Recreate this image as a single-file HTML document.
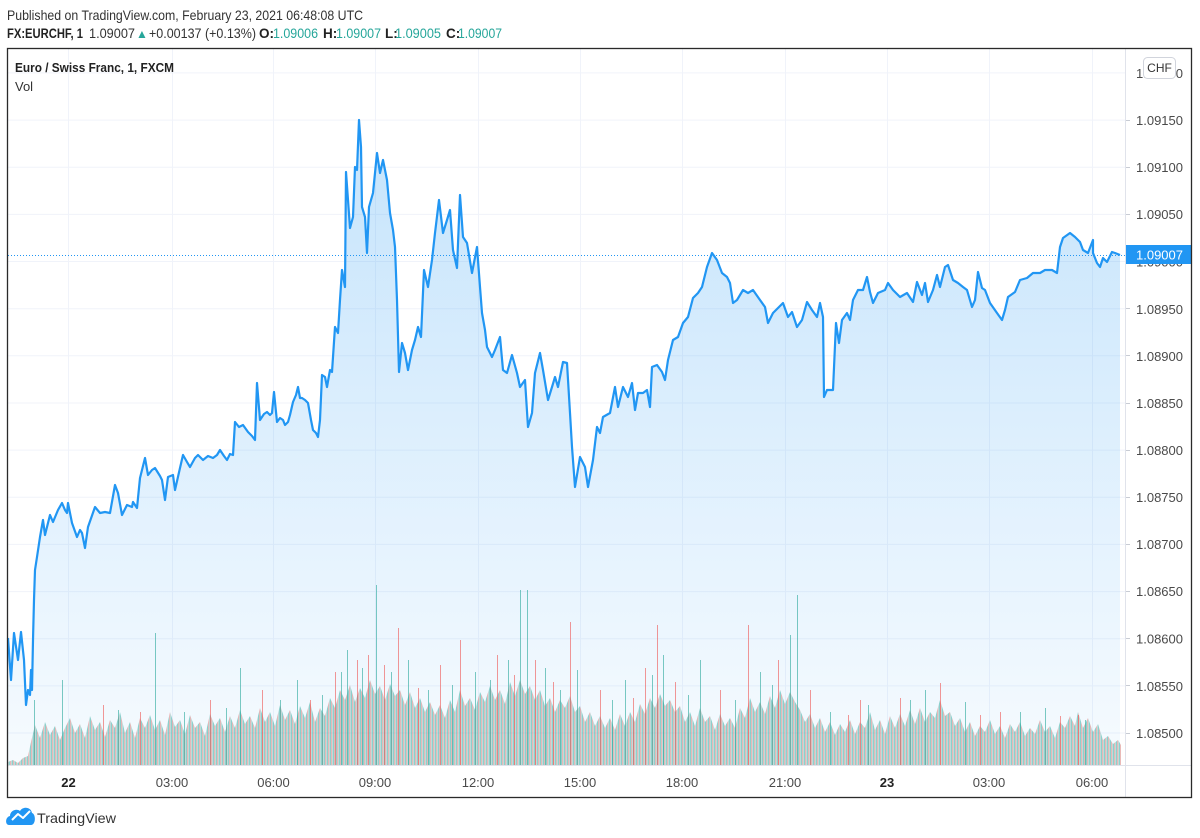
<!DOCTYPE html>
<html><head><meta charset="utf-8"><style>
html,body{margin:0;padding:0;background:#fff;}
svg{display:block;}
text{font-family:"Liberation Sans",Arial,sans-serif;}
</style></head><body>
<svg width="1200" height="838" viewBox="0 0 1200 838" xmlns="http://www.w3.org/2000/svg">
<defs>
<linearGradient id="fg" x1="0" y1="120" x2="0" y2="765" gradientUnits="userSpaceOnUse">
<stop offset="0" stop-color="#2196f3" stop-opacity="0.26"/>
<stop offset="1" stop-color="#2196f3" stop-opacity="0.04"/>
</linearGradient>
<pattern id="vp" width="3" height="10" patternUnits="userSpaceOnUse">
<rect x="0" y="0" width="1.2" height="10" fill="#26a69a" fill-opacity="0.5"/>
<rect x="1.2" y="0" width="1" height="10" fill="#ef5350" fill-opacity="0.45"/>
<rect x="2.2" y="0" width="0.8" height="10" fill="#26a69a" fill-opacity="0.3"/>
</pattern>
</defs>
<rect width="1200" height="838" fill="#fff"/>

<!-- header -->
<text x="7" y="20" font-size="14" fill="#333" textLength="356" lengthAdjust="spacingAndGlyphs">Published on TradingView.com, February 23, 2021 06:48:08 UTC</text>
<g font-size="13.5">
<text x="7" y="38" font-weight="bold" fill="#222" textLength="76" lengthAdjust="spacingAndGlyphs">FX:EURCHF, 1</text>
<text x="89" y="38" fill="#333" textLength="46" lengthAdjust="spacingAndGlyphs">1.09007</text>
<text x="136" y="38" fill="#26a69a" font-size="12">▲</text>
<text x="149" y="38" fill="#333" textLength="107" lengthAdjust="spacingAndGlyphs">+0.00137 (+0.13%)</text>
<text x="259" y="38" font-weight="bold" fill="#222">O:</text>
<text x="273" y="38" fill="#26a69a" textLength="45" lengthAdjust="spacingAndGlyphs">1.09006</text>
<text x="323" y="38" font-weight="bold" fill="#222">H:</text>
<text x="336" y="38" fill="#26a69a" textLength="45" lengthAdjust="spacingAndGlyphs">1.09007</text>
<text x="385" y="38" font-weight="bold" fill="#222">L:</text>
<text x="395" y="38" fill="#26a69a" textLength="46" lengthAdjust="spacingAndGlyphs">1.09005</text>
<text x="446" y="38" font-weight="bold" fill="#222">C:</text>
<text x="458" y="38" fill="#26a69a" textLength="44" lengthAdjust="spacingAndGlyphs">1.09007</text>
</g>

<!-- grid -->
<g stroke="#f0f3fa" stroke-width="1">
<line x1="8" x2="1125" y1="733" y2="733"/>
<line x1="8" x2="1125" y1="685.9" y2="685.9"/>
<line x1="8" x2="1125" y1="638.7" y2="638.7"/>
<line x1="8" x2="1125" y1="591.6" y2="591.6"/>
<line x1="8" x2="1125" y1="544.4" y2="544.4"/>
<line x1="8" x2="1125" y1="497.3" y2="497.3"/>
<line x1="8" x2="1125" y1="450.1" y2="450.1"/>
<line x1="8" x2="1125" y1="403" y2="403"/>
<line x1="8" x2="1125" y1="355.8" y2="355.8"/>
<line x1="8" x2="1125" y1="308.7" y2="308.7"/>
<line x1="8" x2="1125" y1="261.5" y2="261.5"/>
<line x1="8" x2="1125" y1="214.4" y2="214.4"/>
<line x1="8" x2="1125" y1="167.2" y2="167.2"/>
<line x1="8" x2="1125" y1="120.1" y2="120.1"/>
<line x1="8" x2="1125" y1="72.9" y2="72.9"/>
<line y1="49" y2="765" x1="68.5" x2="68.5"/>
<line y1="49" y2="765" x1="172.5" x2="172.5"/>
<line y1="49" y2="765" x1="273.5" x2="273.5"/>
<line y1="49" y2="765" x1="375.5" x2="375.5"/>
<line y1="49" y2="765" x1="478.5" x2="478.5"/>
<line y1="49" y2="765" x1="580.5" x2="580.5"/>
<line y1="49" y2="765" x1="682.5" x2="682.5"/>
<line y1="49" y2="765" x1="785.5" x2="785.5"/>
<line y1="49" y2="765" x1="887.5" x2="887.5"/>
<line y1="49" y2="765" x1="989.5" x2="989.5"/>
<line y1="49" y2="765" x1="1092.5" x2="1092.5"/>
</g>

<!-- area fill -->
<polygon fill="url(#fg)" points="8,765 8,638 11,680 14,633 18,660 21,632 24,660 26,705 28,690 30,695 31,670 32,690 33,640 34,600 35,570 37,557 40,537 43,520 45,535 50,515 53,522 58,510 62,503 65,510 67,513 68,503 72,523 77,537 80,530 82,533 85,548 88,527 95,507 100,513 105,512 110,513 115,485 118,493 122,515 127,505 132,507 133,502 137,508 140,478 145,458 148,475 152,470 155,468 160,476 162,480 165,500 168,477 173,475 175,490 180,468 183,455 187,462 190,467 195,458 198,455 203,460 208,456 213,458 217,455 220,450 224,456 227,460 230,454 233,455 235,422 239,427 243,425 248,432 252,436 255,440 257,383 260,420 264,414 267,412 270,415 272,413 274,392 277,422 280,418 283,420 285,425 288,422 290,415 293,402 296,395 298,387 300,398 302,398 305,400 308,403 311,420 313,430 316,433 318,437 320,420 322,375 325,377 327,387 330,370 332,372 335,327 338,333 340,300 342,270 345,287 346,172 348,200 350,228 353,217 355,167 357,170 359,120 361,147 362,207 365,217 367,253 369,207 373,193 377,153 380,173 383,160 387,180 390,213 393,230 395,247 397,300 399,372 402,343 405,353 408,370 412,350 415,340 418,327 421,337 424,270 428,287 432,260 435,233 439,200 443,233 447,220 450,210 453,250 457,268 460,195 463,237 467,243 472,273 477,247 480,287 482,313 485,330 487,347 492,357 495,350 500,337 503,370 507,373 512,355 517,373 520,387 525,380 528,427 532,413 535,373 540,353 543,370 548,400 552,387 555,377 558,387 563,362 567,363 570,413 572,447 575,487 580,457 585,467 588,487 593,460 597,427 600,433 603,417 610,413 615,387 618,407 623,387 628,397 632,383 635,410 638,393 643,393 647,390 650,407 652,367 657,365 662,372 665,380 668,360 673,340 678,337 683,323 688,317 693,298 698,293 702,287 707,267 712,253 717,260 722,273 727,277 730,283 733,303 737,300 743,290 748,293 753,290 760,300 765,307 768,323 773,313 778,308 783,303 788,317 792,312 797,327 802,320 807,302 812,310 817,317 820,303 823,317 824,397 827,390 833,390 836,323 839,343 842,320 847,313 850,320 853,300 858,290 863,290 867,277 870,292 873,303 878,293 885,290 888,283 893,290 900,297 907,293 913,302 917,282 922,295 925,283 928,302 933,290 937,275 940,287 945,267 948,265 953,280 958,283 963,287 967,290 972,307 975,300 978,272 982,288 985,290 990,303 997,313 1002,320 1005,310 1008,297 1015,292 1020,280 1027,278 1033,273 1040,273 1045,270 1052,270 1057,273 1060,247 1063,238 1070,233 1075,237 1080,242 1083,250 1088,253 1093,240 1093,253 1097,263 1100,267 1103,258 1107,262 1112,252 1115,253 1120,255 1120,765"/>

<!-- volume -->
<polygon fill="url(#vp)" points="8,765 8,762 13,760 18,763 23,758 28,756 31,742 35,725 40,738 45,722 50,735 55,726 60,740 65,728 70,718 75,733 80,724 85,738 90,716 95,730 100,722 105,737 110,720 115,728 120,712 125,733 130,722 135,738 140,718 145,728 150,715 155,730 160,720 165,735 170,712 175,727 180,720 185,734 190,715 195,728 200,722 205,736 210,714 215,726 220,718 225,732 230,716 235,728 240,710 245,724 250,716 255,728 260,708 265,722 270,712 275,726 280,705 285,720 290,710 295,724 300,706 305,718 310,702 315,722 320,708 325,716 330,698 335,708 340,690 345,700 350,685 355,702 360,688 365,698 370,680 375,694 380,686 385,700 390,684 395,696 400,690 405,705 410,692 415,708 420,698 425,712 430,702 435,715 440,705 445,718 450,700 455,712 460,690 465,706 470,698 475,710 480,692 485,702 490,686 495,700 500,690 505,704 510,682 515,696 520,680 525,694 530,686 535,700 540,690 545,706 550,698 555,712 560,700 565,708 570,696 575,712 580,706 585,722 590,712 595,726 600,716 605,728 610,718 615,730 620,714 625,726 630,712 635,722 640,704 645,714 650,698 655,708 660,694 665,706 670,700 675,712 680,706 685,722 690,712 695,726 700,708 705,722 710,716 715,730 720,714 725,726 730,718 735,728 740,708 745,718 750,698 755,712 760,702 765,714 770,696 775,708 780,690 785,704 790,692 795,702 800,710 805,722 810,714 815,728 820,718 825,732 830,722 835,735 840,724 845,732 850,720 855,734 860,722 865,728 870,712 875,730 880,720 885,734 890,716 895,728 900,714 905,726 910,710 915,724 920,708 925,722 930,712 935,718 940,700 945,716 950,712 955,726 960,718 965,732 970,722 975,736 980,726 985,732 990,720 995,734 1000,726 1005,738 1010,724 1015,732 1020,722 1025,736 1030,728 1035,734 1040,720 1045,732 1050,726 1055,738 1060,722 1065,728 1070,716 1075,726 1078,712 1083,728 1088,718 1093,732 1098,724 1103,740 1108,736 1113,744 1118,740 1121,745 1121,765"/>
<g stroke-width="1" stroke-opacity="0.6">
<g stroke="#26a69a">
<line x1="34.5" x2="34.5" y1="765" y2="700"/>
<line x1="62.5" x2="62.5" y1="765" y2="680"/>
<line x1="118.5" x2="118.5" y1="765" y2="710"/>
<line x1="155.5" x2="155.5" y1="765" y2="633"/>
<line x1="184.5" x2="184.5" y1="765" y2="712"/>
<line x1="226.5" x2="226.5" y1="765" y2="708"/>
<line x1="240.5" x2="240.5" y1="765" y2="668"/>
<line x1="280.5" x2="280.5" y1="765" y2="700"/>
<line x1="297.5" x2="297.5" y1="765" y2="680"/>
<line x1="322.5" x2="322.5" y1="765" y2="695"/>
<line x1="341.5" x2="341.5" y1="765" y2="672"/>
<line x1="347.5" x2="347.5" y1="765" y2="650"/>
<line x1="362.5" x2="362.5" y1="765" y2="668"/>
<line x1="376.5" x2="376.5" y1="765" y2="585"/>
<line x1="391.5" x2="391.5" y1="765" y2="672"/>
<line x1="408.5" x2="408.5" y1="765" y2="660"/>
<line x1="428.5" x2="428.5" y1="765" y2="690"/>
<line x1="452.5" x2="452.5" y1="765" y2="685"/>
<line x1="475.5" x2="475.5" y1="765" y2="672"/>
<line x1="490.5" x2="490.5" y1="765" y2="680"/>
<line x1="508.5" x2="508.5" y1="765" y2="660"/>
<line x1="520.5" x2="520.5" y1="765" y2="590"/>
<line x1="527.5" x2="527.5" y1="765" y2="590"/>
<line x1="545.5" x2="545.5" y1="765" y2="668"/>
<line x1="560.5" x2="560.5" y1="765" y2="690"/>
<line x1="577.5" x2="577.5" y1="765" y2="670"/>
<line x1="612.5" x2="612.5" y1="765" y2="700"/>
<line x1="625.5" x2="625.5" y1="765" y2="680"/>
<line x1="652.5" x2="652.5" y1="765" y2="675"/>
<line x1="663.5" x2="663.5" y1="765" y2="655"/>
<line x1="688.5" x2="688.5" y1="765" y2="695"/>
<line x1="700.5" x2="700.5" y1="765" y2="660"/>
<line x1="735.5" x2="735.5" y1="765" y2="700"/>
<line x1="760.5" x2="760.5" y1="765" y2="672"/>
<line x1="772.5" x2="772.5" y1="765" y2="685"/>
<line x1="790.5" x2="790.5" y1="765" y2="635"/>
<line x1="797.5" x2="797.5" y1="765" y2="595"/>
<line x1="830.5" x2="830.5" y1="765" y2="712"/>
<line x1="868.5" x2="868.5" y1="765" y2="705"/>
<line x1="910.5" x2="910.5" y1="765" y2="700"/>
<line x1="925.5" x2="925.5" y1="765" y2="690"/>
<line x1="965.5" x2="965.5" y1="765" y2="702"/>
<line x1="1020.5" x2="1020.5" y1="765" y2="712"/>
<line x1="1045.5" x2="1045.5" y1="765" y2="708"/>
<line x1="1085.5" x2="1085.5" y1="765" y2="720"/>
</g>
<g stroke="#ef5350">
<line x1="103.5" x2="103.5" y1="765" y2="705"/>
<line x1="140.5" x2="140.5" y1="765" y2="712"/>
<line x1="210.5" x2="210.5" y1="765" y2="700"/>
<line x1="262.5" x2="262.5" y1="765" y2="690"/>
<line x1="310.5" x2="310.5" y1="765" y2="700"/>
<line x1="335.5" x2="335.5" y1="765" y2="672"/>
<line x1="357.5" x2="357.5" y1="765" y2="660"/>
<line x1="368.5" x2="368.5" y1="765" y2="655"/>
<line x1="384.5" x2="384.5" y1="765" y2="665"/>
<line x1="398.5" x2="398.5" y1="765" y2="628"/>
<line x1="418.5" x2="418.5" y1="765" y2="688"/>
<line x1="440.5" x2="440.5" y1="765" y2="665"/>
<line x1="460.5" x2="460.5" y1="765" y2="640"/>
<line x1="497.5" x2="497.5" y1="765" y2="655"/>
<line x1="514.5" x2="514.5" y1="765" y2="675"/>
<line x1="535.5" x2="535.5" y1="765" y2="660"/>
<line x1="553.5" x2="553.5" y1="765" y2="682"/>
<line x1="570.5" x2="570.5" y1="765" y2="622"/>
<line x1="600.5" x2="600.5" y1="765" y2="690"/>
<line x1="633.5" x2="633.5" y1="765" y2="698"/>
<line x1="645.5" x2="645.5" y1="765" y2="668"/>
<line x1="657.5" x2="657.5" y1="765" y2="625"/>
<line x1="675.5" x2="675.5" y1="765" y2="682"/>
<line x1="720.5" x2="720.5" y1="765" y2="690"/>
<line x1="748.5" x2="748.5" y1="765" y2="625"/>
<line x1="778.5" x2="778.5" y1="765" y2="660"/>
<line x1="810.5" x2="810.5" y1="765" y2="690"/>
<line x1="848.5" x2="848.5" y1="765" y2="715"/>
<line x1="860.5" x2="860.5" y1="765" y2="700"/>
<line x1="900.5" x2="900.5" y1="765" y2="698"/>
<line x1="940.5" x2="940.5" y1="765" y2="683"/>
<line x1="980.5" x2="980.5" y1="765" y2="715"/>
<line x1="1000.5" x2="1000.5" y1="765" y2="712"/>
<line x1="1060.5" x2="1060.5" y1="765" y2="716"/>
<line x1="1078.5" x2="1078.5" y1="765" y2="715"/>
</g>
</g>

<!-- dotted last price line -->
<line x1="8" x2="1125" y1="255.5" y2="255.5" stroke="#2196f3" stroke-width="1" stroke-dasharray="1 2"/>

<!-- price line -->
<polyline fill="none" stroke="#2196f3" stroke-width="2.2" stroke-linejoin="round" points="8,638 11,680 14,633 18,660 21,632 24,660 26,705 28,690 30,695 31,670 32,690 33,640 34,600 35,570 37,557 40,537 43,520 45,535 50,515 53,522 58,510 62,503 65,510 67,513 68,503 72,523 77,537 80,530 82,533 85,548 88,527 95,507 100,513 105,512 110,513 115,485 118,493 122,515 127,505 132,507 133,502 137,508 140,478 145,458 148,475 152,470 155,468 160,476 162,480 165,500 168,477 173,475 175,490 180,468 183,455 187,462 190,467 195,458 198,455 203,460 208,456 213,458 217,455 220,450 224,456 227,460 230,454 233,455 235,422 239,427 243,425 248,432 252,436 255,440 257,383 260,420 264,414 267,412 270,415 272,413 274,392 277,422 280,418 283,420 285,425 288,422 290,415 293,402 296,395 298,387 300,398 302,398 305,400 308,403 311,420 313,430 316,433 318,437 320,420 322,375 325,377 327,387 330,370 332,372 335,327 338,333 340,300 342,270 345,287 346,172 348,200 350,228 353,217 355,167 357,170 359,120 361,147 362,207 365,217 367,253 369,207 373,193 377,153 380,173 383,160 387,180 390,213 393,230 395,247 397,300 399,372 402,343 405,353 408,370 412,350 415,340 418,327 421,337 424,270 428,287 432,260 435,233 439,200 443,233 447,220 450,210 453,250 457,268 460,195 463,237 467,243 472,273 477,247 480,287 482,313 485,330 487,347 492,357 495,350 500,337 503,370 507,373 512,355 517,373 520,387 525,380 528,427 532,413 535,373 540,353 543,370 548,400 552,387 555,377 558,387 563,362 567,363 570,413 572,447 575,487 580,457 585,467 588,487 593,460 597,427 600,433 603,417 610,413 615,387 618,407 623,387 628,397 632,383 635,410 638,393 643,393 647,390 650,407 652,367 657,365 662,372 665,380 668,360 673,340 678,337 683,323 688,317 693,298 698,293 702,287 707,267 712,253 717,260 722,273 727,277 730,283 733,303 737,300 743,290 748,293 753,290 760,300 765,307 768,323 773,313 778,308 783,303 788,317 792,312 797,327 802,320 807,302 812,310 817,317 820,303 823,317 824,397 827,390 833,390 836,323 839,343 842,320 847,313 850,320 853,300 858,290 863,290 867,277 870,292 873,303 878,293 885,290 888,283 893,290 900,297 907,293 913,302 917,282 922,295 925,283 928,302 933,290 937,275 940,287 945,267 948,265 953,280 958,283 963,287 967,290 972,307 975,300 978,272 982,288 985,290 990,303 997,313 1002,320 1005,310 1008,297 1015,292 1020,280 1027,278 1033,273 1040,273 1045,270 1052,270 1057,273 1060,247 1063,238 1070,233 1075,237 1080,242 1083,250 1088,253 1093,240 1093,253 1097,263 1100,267 1103,258 1107,262 1112,252 1115,253 1120,255"/>

<!-- title -->
<text x="15" y="72" font-size="13" font-weight="bold" fill="#222" textLength="159" lengthAdjust="spacingAndGlyphs">Euro / Swiss Franc, 1, FXCM</text>
<text x="15" y="91" font-size="13" fill="#333">Vol</text>

<!-- axes separators -->
<line x1="1125.5" x2="1125.5" y1="48" y2="797" stroke="#e0e3eb" stroke-width="1"/>
<line x1="7" x2="1191" y1="765.5" y2="765.5" stroke="#e0e3eb" stroke-width="1"/>

<!-- price axis labels -->
<g font-size="13" fill="#4a4a4a">
<text x="1136" y="78">1.09200</text>
<text x="1136" y="125">1.09150</text>
<text x="1136" y="172">1.09100</text>
<text x="1136" y="219">1.09050</text>
<text x="1136" y="266.5">1.09000</text>
<text x="1136" y="314">1.08950</text>
<text x="1136" y="361">1.08900</text>
<text x="1136" y="408">1.08850</text>
<text x="1136" y="455">1.08800</text>
<text x="1136" y="502">1.08750</text>
<text x="1136" y="549">1.08700</text>
<text x="1136" y="596">1.08650</text>
<text x="1136" y="643.5">1.08600</text>
<text x="1136" y="691">1.08550</text>
<text x="1136" y="738">1.08500</text>
</g>
<g stroke="#c8ccd4" stroke-width="1">
<line x1="1126" x2="1130" y1="120.5" y2="120.5"/>
<line x1="1126" x2="1130" y1="167.5" y2="167.5"/>
<line x1="1126" x2="1130" y1="214.5" y2="214.5"/>
<line x1="1126" x2="1130" y1="308.5" y2="308.5"/>
<line x1="1126" x2="1130" y1="355.5" y2="355.5"/>
<line x1="1126" x2="1130" y1="403.5" y2="403.5"/>
<line x1="1126" x2="1130" y1="450.5" y2="450.5"/>
<line x1="1126" x2="1130" y1="497.5" y2="497.5"/>
<line x1="1126" x2="1130" y1="544.5" y2="544.5"/>
<line x1="1126" x2="1130" y1="591.5" y2="591.5"/>
<line x1="1126" x2="1130" y1="638.5" y2="638.5"/>
<line x1="1126" x2="1130" y1="685.5" y2="685.5"/>
<line x1="1126" x2="1130" y1="733.5" y2="733.5"/>
</g>

<!-- CHF button -->
<rect x="1143.5" y="57.5" width="32" height="21" rx="4" fill="#fff" stroke="#d1d4dc"/>
<text x="1159.5" y="72" font-size="12" fill="#333" text-anchor="middle">CHF</text>

<!-- last price label -->
<rect x="1126" y="245" width="66" height="19" fill="#2196f3"/>
<text x="1136" y="259.5" font-size="13" fill="#fff">1.09007</text>

<!-- time axis labels -->
<g font-size="13" fill="#4a4a4a" text-anchor="middle">
<text x="68.5" y="787" font-weight="bold" fill="#222">22</text>
<text x="172" y="787">03:00</text>
<text x="273.5" y="787">06:00</text>
<text x="375" y="787">09:00</text>
<text x="478" y="787">12:00</text>
<text x="580" y="787">15:00</text>
<text x="682" y="787">18:00</text>
<text x="785" y="787">21:00</text>
<text x="887" y="787" font-weight="bold" fill="#222">23</text>
<text x="989" y="787">03:00</text>
<text x="1092" y="787">06:00</text>
</g>

<!-- frame -->
<rect x="7.5" y="48.5" width="1184" height="749" fill="none" stroke="#2a2a2a" stroke-width="1.3"/>

<!-- footer logo -->
<path d="M9,825 C5,825 5,817 10,816 C10,811 16,808 20,811 C23,806 31,807 32,813 C36,814 36,825 31,825 Z" fill="#2196f3"/>
<polyline points="12,820 18,814 23,818 30,811" fill="none" stroke="#fff" stroke-width="2" stroke-linejoin="round"/>
<text x="37" y="823" font-size="14" fill="#333" textLength="79" lengthAdjust="spacingAndGlyphs">TradingView</text>
</svg>
</body></html>
